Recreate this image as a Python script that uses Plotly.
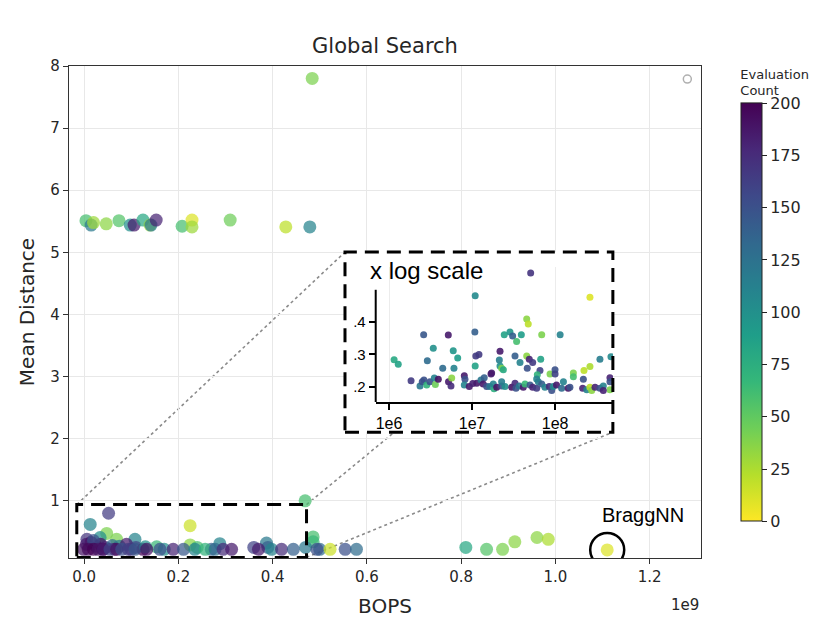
import plotly.graph_objects as go

# main scatter: BOPS (x), mean distance (y), evaluation count (colour)
bops = [
    0.484e9,
    0.004e9, 0.015e9, 0.020e9, 0.047e9, 0.074e9, 0.098e9, 0.106e9, 0.125e9, 0.140e9,
    0.142e9, 0.153e9, 0.208e9, 0.229e9, 0.229e9, 0.310e9, 0.428e9, 0.479e9,
    0.052e9, 0.013e9, 0.225e9, 0.469e9, 0.486e9, 0.486e9, 0.108e9, 0.048e9, 0.069e9,
    0.034e9, 0.006e9, 0.225e9, 0.288e9, 0.387e9, 0.154e9,
    0.005e9, 0.015e9, 0.025e9, 0.035e9, 0.045e9, 0.060e9, 0.075e9, 0.090e9, 0.020e9,
    0.110e9, 0.125e9, 0.040e9, 0.065e9, 0.100e9, 0.130e9, 0.170e9, 0.240e9, 0.270e9,
    0.360e9, 0.390e9, 0.470e9, 0.500e9,
    -0.001e9, 0.009e9, 0.020e9, 0.030e9, 0.041e9, 0.055e9, 0.069e9, 0.080e9, 0.094e9,
    0.108e9, 0.133e9, 0.161e9, 0.189e9, 0.211e9, 0.235e9, 0.257e9, 0.278e9, 0.295e9,
    0.313e9, 0.370e9, 0.398e9, 0.419e9, 0.444e9, 0.494e9, 0.522e9, 0.554e9, 0.578e9,
    0.810e9, 0.854e9, 0.888e9, 0.914e9, 0.961e9, 0.985e9, 1.110e9,
]
mean_dist = [
    7.80,
    5.51, 5.44, 5.48, 5.46, 5.51, 5.44, 5.44, 5.52, 5.44,
    5.44, 5.52, 5.42, 5.52, 5.41, 5.52, 5.41, 5.41,
    0.80, 0.62, 0.60, 1.00, 0.42, 0.34, 0.38, 0.475, 0.38,
    0.41, 0.38, 0.29, 0.31, 0.32, 0.26,
    0.30, 0.33, 0.27, 0.30, 0.25, 0.28, 0.27, 0.30, 0.36,
    0.25, 0.22, 0.22, 0.22, 0.22, 0.26, 0.22, 0.25, 0.22,
    0.25, 0.25, 0.25, 0.22,
    0.22, 0.22, 0.22, 0.22, 0.22, 0.22, 0.22, 0.22, 0.22,
    0.22, 0.22, 0.22, 0.22, 0.22, 0.22, 0.22, 0.22, 0.22,
    0.22, 0.22, 0.22, 0.22, 0.22, 0.22, 0.22, 0.22, 0.22,
    0.25, 0.22, 0.22, 0.34, 0.41, 0.38, 0.21,
]
eval_count = [
    40,
    60, 120, 30, 35, 55, 100, 185, 80, 30,
    120, 180, 60, 10, 30, 45, 20, 110,
    165, 110, 15, 60, 60, 65, 110, 40, 40,
    100, 170, 35, 110, 120, 65,
    185, 190, 175, 195, 180, 130, 120, 185, 150,
    160, 200, 200, 195, 170, 100, 100, 60, 140,
    160, 140, 120, 130,
    190, 195, 200, 190, 185, 160, 190, 150, 165,
    145, 190, 150, 180, 145, 110, 70, 130, 175,
    185, 185, 110, 175, 140, 150, 15, 150, 130,
    80, 55, 40, 35, 35, 25, 10,
]

# unfinished run marker (grey open circle, top right)
pending_x = [1.28e9]
pending_y = [7.79]

# inset: same search, low-distance region, x on log scale
inset_bops = [
    1.15e6, 1.29e6, 1.84e6, 2.36e6, 2.51e6, 2.63e6, 2.61e6, 2.89e6, 2.84e6, 3.11e6,
    3.41e6, 3.51e6, 3.61e6, 3.92e6, 4.43e6, 5.17e6, 5.20e6, 5.68e6, 5.57e6, 5.93e6,
    6.05e6, 6.71e6, 8.06e6, 8.21e6, 8.06e6, 9.25e6, 1.02e7, 1.09e7, 1.08e7, 1.11e7,
    1.21e7, 1.09e7, 1.14e7, 1.28e7, 1.40e7, 1.36e7, 1.50e7, 1.64e7, 1.69e7, 1.84e7,
    2.63e8, 4.55e7, 4.75e7, 2.44e7, 2.86e7, 3.08e7, 3.44e7, 3.92e7, 6.90e7, 1.15e8,
    2.17e7, 2.13e7, 2.17e7, 2.27e7, 2.38e7, 3.29e7, 3.78e7, 4.55e7, 4.89e7, 5.37e7,
    6.71e7, 4.62e7, 6.58e7, 6.11e7, 8.69e7, 9.98e7, 1.00e8, 1.72e7, 1.66e8, 2.23e8,
    2.63e8, 3.47e8, 4.71e8, 4.58e8, 4.58e8, 6.00e7, 1.66e8, 2.19e8, 1.80e7, 1.98e7,
    2.27e7, 2.49e7, 2.27e7, 3.00e7, 3.29e7, 3.38e7, 3.71e7, 4.14e7, 4.34e7, 4.99e7,
    5.37e7, 6.00e7, 6.28e7, 6.90e7, 7.55e7, 8.51e7, 9.10e7, 9.51e7, 1.04e8, 1.20e8,
    1.26e8, 1.44e8, 1.51e8, 2.15e8, 2.41e8, 2.63e8, 2.76e8, 3.03e8, 3.47e8, 3.81e8,
    4.58e8, 3.81e8, 5.08e7,
]
inset_dist = [
    0.284, 0.270, 0.220, 0.204, 0.217, 0.222, 0.360, 0.281, 0.207, 0.217,
    0.319, 0.228, 0.208, 0.224, 0.258, 0.359, 0.217, 0.228, 0.204, 0.311,
    0.258, 0.289, 0.235, 0.224, 0.207, 0.202, 0.211, 0.479, 0.368, 0.295,
    0.300, 0.265, 0.212, 0.222, 0.229, 0.210, 0.202, 0.202, 0.240, 0.195,
    0.474, 0.408, 0.393, 0.360, 0.368, 0.356, 0.339, 0.360, 0.360, 0.360,
    0.310, 0.283, 0.265, 0.258, 0.253, 0.295, 0.275, 0.295, 0.285, 0.275,
    0.285, 0.258, 0.251, 0.238, 0.240, 0.253, 0.240, 0.243, 0.243, 0.251,
    0.263, 0.285, 0.293, 0.229, 0.217, 0.225, 0.232, 0.224, 0.210, 0.200,
    0.204, 0.202, 0.217, 0.200, 0.212, 0.197, 0.204, 0.200, 0.210, 0.207,
    0.200, 0.197, 0.217, 0.210, 0.200, 0.202, 0.190, 0.202, 0.207, 0.197,
    0.217, 0.197, 0.200, 0.197, 0.192, 0.200, 0.190, 0.200, 0.197, 0.204,
    0.192, 0.190, 0.548,
]
inset_count = [
    80, 85, 165, 120, 150, 150, 145, 130, 70, 150,
    100, 110, 45, 190, 130, 185, 185, 35, 175, 95,
    110, 90, 185, 150, 110, 185, 180, 105, 140, 165,
    165, 85, 185, 120, 140, 185, 150, 120, 185, 75,
    10, 35, 20, 85, 95, 140, 60, 90, 40, 110,
    185, 115, 100, 40, 80, 140, 110, 35, 180, 165,
    85, 150, 160, 70, 40, 150, 160, 185, 40, 20,
    25, 115, 105, 180, 150, 110, 60, 150, 110, 190,
    150, 100, 115, 190, 175, 150, 120, 185, 65, 145,
    180, 165, 115, 140, 110, 175, 150, 105, 185, 130,
    110, 190, 150, 180, 110, 20, 35, 180, 150, 110,
    40, 180, 170,
]

x_ticks = [0, 0.2e9, 0.4e9, 0.6e9, 0.8e9, 1.0e9, 1.2e9]
x_tick_text = ["0.0", "0.2", "0.4", "0.6", "0.8", "1.0", "1.2"]
y_ticks = [1, 2, 3, 4, 5, 6, 7, 8]
inset_x_ticks = [1e6, 1e7, 1e8]
inset_x_text = ["1e6", "1e7", "1e8"]
inset_y_ticks = [0.2, 0.3, 0.4]
inset_y_text = [".2", ".3", ".4"]
cbar_ticks = [0, 25, 50, 75, 100, 125, 150, 175, 200]

# zoom box on the main axes and the inset frame (main data units)
zoom_box = dict(x0=-0.0155e9, x1=0.472e9, y0=0.09, y1=0.94)
inset_box = dict(x0=0.5536e9, x1=1.122e9, y0=2.106, y1=5.005)
bragg_x, bragg_y = bops[-1], mean_dist[-1]

# inset y range; the drawn spine stops at spine_top
inset_yrange = [0.155, 0.565]
spine_top = 0.497

MPL = "DejaVu Sans"
ARIAL = "Liberation Sans"
TXT = "#262626"

fig = go.Figure()

fig.add_trace(go.Scatter(
    x=bops, y=mean_dist, mode="markers",
    marker=dict(
        size=13, color=eval_count, colorscale="Viridis", reversescale=True,
        cmin=0, cmax=200, opacity=0.72, line=dict(width=0),
        colorbar=dict(
            title=dict(text="Evaluation<br>Count", side="top",
                       font=dict(family=MPL, size=13, color=TXT)),
            x=1.063, xanchor="left", y=0.537, yanchor="middle",
            len=0.925, thickness=21, xpad=0, ypad=0,
            outlinewidth=1, outlinecolor="#222",
            tickvals=cbar_ticks, ticks="outside", ticklen=5, tickcolor="#222",
            tickfont=dict(family=MPL, size=16, color=TXT),
        ),
    ),
    showlegend=False, hoverinfo="skip",
))

fig.add_trace(go.Scatter(
    x=pending_x, y=pending_y, mode="markers",
    marker=dict(symbol="circle-open", size=8, color="#b0b0b0", line=dict(width=1.5)),
    showlegend=False, hoverinfo="skip",
))

fig.add_trace(go.Scatter(
    x=inset_bops, y=inset_dist, mode="markers", xaxis="x2", yaxis="y2",
    marker=dict(size=7, color=inset_count, colorscale="Viridis", reversescale=True,
                cmin=0, cmax=200, opacity=0.9, line=dict(width=0)),
    showlegend=False, hoverinfo="skip",
))

# connector lines from the zoom box to the inset frame
dotted = dict(color="#8a8a8a", width=1.6, dash="dot")
for (ax0, ay0, bx0, by0) in [
    (zoom_box["x0"], zoom_box["y1"], inset_box["x0"], inset_box["y1"]),
    (zoom_box["x1"], zoom_box["y1"], inset_box["x1"], inset_box["y1"]),
    (zoom_box["x1"], zoom_box["y0"], inset_box["x1"], inset_box["y0"]),
]:
    fig.add_shape(type="line", xref="x", yref="y", x0=ax0, y0=ay0, x1=bx0, y1=by0,
                  line=dotted, layer="below")

dash_line = dict(color="black", width=3, dash="14px,8px")
fig.add_shape(type="rect", xref="x", yref="y", layer="above", line=dash_line, **zoom_box)

# inset frame: white card over the main grid, dashed outline on top
fig.add_shape(type="rect", xref="x", yref="y", layer="between",
              fillcolor="white", line=dict(width=0), **inset_box)
fig.add_shape(type="rect", xref="x", yref="y", layer="above", line=dash_line, **inset_box)

# inset left spine (shorter than the y range so the outlier sits above it)
fig.add_shape(type="line", xref="x2 domain", yref="y2 domain", layer="above",
              x0=0, x1=0, y0=0,
              y1=(spine_top - inset_yrange[0]) / (inset_yrange[1] - inset_yrange[0]),
              line=dict(color="black", width=2))

# BraggNN circle
fig.add_shape(type="circle", xref="x", yref="y", xsizemode="pixel", ysizemode="pixel",
              xanchor=bragg_x, yanchor=bragg_y, x0=-17, x1=17, y0=-17, y1=17,
              line=dict(color="black", width=2.5))
fig.add_annotation(x=bragg_x, y=bragg_y, xref="x", yref="y", text="BraggNN",
                   showarrow=False, xanchor="center", yanchor="middle",
                   xshift=36, yshift=35,
                   font=dict(family=ARIAL, size=20, color="black"))

fig.add_annotation(x=0.473, y=0.585, xref="paper", yref="paper", text="x log scale",
                   showarrow=False, xanchor="left", yanchor="middle",
                   font=dict(family=ARIAL, size=24, color="black"))

fig.add_annotation(x=1.0, y=-0.095, xref="paper", yref="paper", text="1e9",
                   showarrow=False, xanchor="right", yanchor="middle",
                   font=dict(family=MPL, size=15, color=TXT))

fig.update_layout(
    width=830, height=633,
    margin=dict(l=61, r=137, t=58, b=83),
    paper_bgcolor="white", plot_bgcolor="white",
    title=dict(text="Global Search", x=0.5, xref="paper", xanchor="center",
               y=0.94, yref="container", yanchor="middle",
               font=dict(family=MPL, size=21, color=TXT)),
    xaxis=dict(
        range=[-0.032e9, 1.309e9], tickvals=x_ticks, ticktext=x_tick_text,
        ticks="outside", ticklen=5, tickcolor="#333", showline=True, mirror=True,
        linecolor="#333", linewidth=1.2, showgrid=True, gridcolor="#e8e8e8",
        zeroline=False, tickfont=dict(family=MPL, size=15, color=TXT),
        title=dict(text="BOPS", standoff=13, font=dict(family=MPL, size=20, color=TXT)),
    ),
    yaxis=dict(
        range=[0.08, 8.0], tickvals=y_ticks,
        ticks="outside", ticklen=5, tickcolor="#333", showline=True, mirror=True,
        linecolor="#333", linewidth=1.2, showgrid=True, gridcolor="#e8e8e8",
        zeroline=False, tickfont=dict(family=MPL, size=15, color=TXT),
        title=dict(text="Mean Distance", standoff=10, font=dict(family=MPL, size=20, color=TXT)),
    ),
    xaxis2=dict(
        domain=[0.4853, 0.8608], anchor="y2", type="log", range=[5.839, 8.698],
        tickvals=inset_x_ticks, ticktext=inset_x_text,
        ticks="outside", ticklen=6, tickwidth=2, tickcolor="black",
        showline=True, linecolor="black", linewidth=2, mirror=False,
        showgrid=True, gridcolor="#ececec", zeroline=False,
        tickfont=dict(family=ARIAL, size=16, color="black"),
    ),
    yaxis2=dict(
        domain=[0.3171, 0.5905], anchor="x2", range=inset_yrange,
        tickvals=inset_y_ticks, ticktext=inset_y_text,
        ticks="outside", ticklen=6, tickwidth=2, tickcolor="black",
        showline=False, showgrid=False, zeroline=False,
        tickfont=dict(family=ARIAL, size=15, color="black"),
    ),
)

fig.write_html("out.html")
